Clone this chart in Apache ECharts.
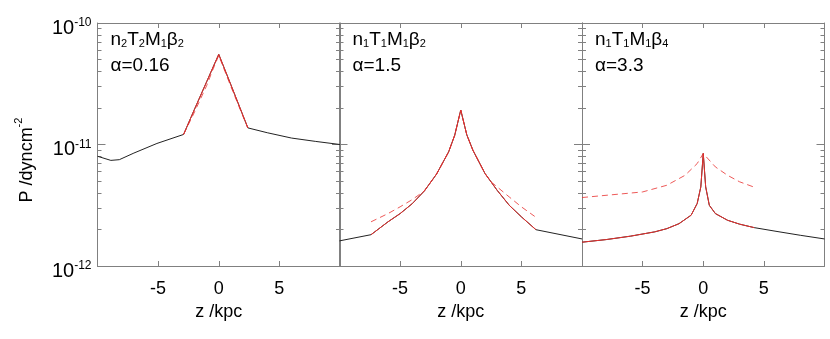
<!DOCTYPE html>
<html>
<head>
<meta charset="utf-8">
<script src="https://cdn.jsdelivr.net/npm/echarts@6/dist/echarts.min.js"></script>
<style>
  html, body { margin: 0; padding: 0; background: #fff; }
  #chart { width: 830px; height: 339px; }
</style>
</head>
<body>
<div id="chart"></div>
<script>
// panel labels
const panelModel = ['n{s|2}T{s|2}M{s|1}β{s|2}', 'n{s|1}T{s|1}M{s|1}β{s|2}', 'n{s|1}T{s|1}M{s|1}β{s|4}']
const panelAlpha = ['α=0.16', 'α=1.5', 'α=3.3']

// minor ticks of the log axis
const minorP = [2e-12, 3e-12, 4e-12, 5e-12, 6e-12, 7e-12, 8e-12, 9e-12,
    2e-11, 3e-11, 4e-11, 5e-11, 6e-11, 7e-11, 8e-11, 9e-11]

// panel 1 (n2T2M1b2)
const p1BlackZ = [-10, -8.9, -8.2, -7.0, -5.1, -2.9, -2, -1, -0.5, 0, 1, 2, 2.4, 4, 6, 8, 10]
const p1BlackP = [8.0e-12, 7.4e-12, 7.5e-12, 8.5e-12, 1.02e-11, 1.21e-11, 1.95e-11, 3.28e-11, 4.26e-11, 5.52e-11,
    3.10e-11, 1.73e-11, 1.37e-11, 1.25e-11, 1.13e-11, 1.06e-11, 1.0e-11]
const p1RedZ = [-2.9, -2, -1, -0.5, 0, 1, 2, 2.4]
const p1RedP = [1.21e-11, 1.95e-11, 3.28e-11, 4.26e-11, 5.52e-11, 3.10e-11, 1.73e-11, 1.37e-11]
const p1DashZ = [-2.9, -2, -1, -0.5, 0, 1, 2, 2.4]
const p1DashP = [1.21e-11, 1.85e-11, 3.05e-11, 4.1e-11, 5.4e-11, 3.0e-11, 1.7e-11, 1.37e-11]

// panel 2 (n1T1M1b2)
const p2BlackZ = [-10, -7.4, -6, -5, -4, -3, -2, -1, -0.5, 0, 0.5, 1, 2, 3, 4, 5, 6.2, 10]
const p2BlackP = [1.61e-12, 1.81e-12, 2.31e-12, 2.70e-12, 3.26e-12, 4.15e-12, 5.70e-12, 8.70e-12, 1.19e-11, 1.92e-11,
    1.2e-11, 8.98e-12, 5.77e-12, 4.20e-12, 3.16e-12, 2.54e-12, 1.99e-12, 1.67e-12]
const p2RedZ = [-7.4, -6, -5, -4, -3, -2, -1, -0.5, 0, 0.5, 1, 2, 3, 4, 5, 6.2]
const p2RedP = [1.81e-12, 2.31e-12, 2.70e-12, 3.26e-12, 4.15e-12, 5.70e-12, 8.70e-12, 1.19e-11, 1.92e-11,
    1.2e-11, 8.98e-12, 5.77e-12, 4.20e-12, 3.16e-12, 2.54e-12, 1.99e-12]
const p2DashZ = [-7.4, -6, -5, -4, -3, -2, -1, -0.5, 0, 0.5, 1, 2, 2.5, 3, 4, 5, 6.1]
const p2DashP = [2.31e-12, 2.70e-12, 3.07e-12, 3.52e-12, 4.15e-12, 5.70e-12, 8.70e-12, 1.19e-11, 1.92e-11,
    1.2e-11, 8.98e-12, 5.77e-12, 4.93e-12, 4.48e-12, 3.70e-12, 3.07e-12, 2.56e-12]

// panel 3 (n1T1M1b4)
const p3BlackZ = [-10, -8, -6, -4, -3, -2, -1, -0.5, -0.2, 0, 0.2, 0.5, 1, 2, 3, 4.2, 6, 8, 10]
const p3BlackP = [1.57e-12, 1.65e-12, 1.76e-12, 1.91e-12, 2.03e-12, 2.23e-12, 2.62e-12, 3.27e-12, 4.48e-12, 8.43e-12,
    4.48e-12, 3.16e-12, 2.70e-12, 2.38e-12, 2.21e-12, 2.07e-12, 1.93e-12, 1.79e-12, 1.67e-12]
const p3RedZ = [-10, -8, -6, -4, -3, -2, -1, -0.5, -0.2, 0, 0.2, 0.5, 1, 2, 3, 4.2]
const p3RedP = [1.57e-12, 1.65e-12, 1.76e-12, 1.91e-12, 2.03e-12, 2.23e-12, 2.62e-12, 3.27e-12, 4.48e-12, 8.43e-12,
    4.48e-12, 3.16e-12, 2.70e-12, 2.38e-12, 2.21e-12, 2.07e-12]
const p3DashZ = [-10, -5, -3, -1.5, -0.5, 0, 1, 2, 3, 4.3]
const p3DashP = [3.66e-12, 4.07e-12, 4.62e-12, 5.58e-12, 6.97e-12, 8.43e-12, 6.54e-12, 5.58e-12, 4.93e-12, 4.42e-12]

const panels = [
    {black: [p1BlackZ, p1BlackP], red: [p1RedZ, p1RedP], dash: [p1DashZ, p1DashP]},
    {black: [p2BlackZ, p2BlackP], red: [p2RedZ, p2RedP], dash: [p2DashZ, p2DashP]},
    {black: [p3BlackZ, p3BlackP], red: [p3RedZ, p3RedP], dash: [p3DashZ, p3DashP]},
]

const FONT = 'Liberation Sans, Arial, Helvetica, sans-serif'
const AXIS_COLOR = '#808080'
const RED = '#e8302e'

function pairs(z, p) {
    return z.map((v, i) => [v, p[i]])
}

const grids = [], xAxes = [], yAxes = [], series = [], graphics = []
const lefts = [97.5, 339.5, 582]

lefts.forEach((left, i) => {
    grids.push({left: left, top: 23, width: 242.5, height: 243})
    // bottom x axis with labels
    xAxes.push({
        type: 'value', gridIndex: i, min: -10, max: 10, interval: 5,
        name: 'z /kpc', nameLocation: 'middle', nameGap: 33,
        nameTextStyle: {fontFamily: FONT, fontSize: 18, color: '#000'},
        axisLine: {onZero: false, lineStyle: {color: AXIS_COLOR}},
        axisTick: {inside: true, length: 5, lineStyle: {color: AXIS_COLOR}},
        axisLabel: {showMinLabel: false, showMaxLabel: false, margin: 14,
            fontFamily: FONT, fontSize: 18, color: '#000'},
        splitLine: {show: false}
    })
    // top x axis, ticks only
    xAxes.push({
        type: 'value', gridIndex: i, position: 'top', min: -10, max: 10, interval: 5,
        axisLine: {onZero: false, lineStyle: {color: AXIS_COLOR}},
        axisTick: {inside: true, length: 5, lineStyle: {color: AXIS_COLOR}},
        axisLabel: {show: false},
        splitLine: {show: false}
    })
    const base = {type: 'log', logBase: 10, gridIndex: i, min: 1e-12, max: 1e-10, splitLine: {show: false}}
    yAxes.push(Object.assign({}, base, {
        position: 'left',
        axisLine: {show: true, onZero: false, lineStyle: {color: AXIS_COLOR}},
        axisTick: {inside: true, length: 8, lineStyle: {color: AXIS_COLOR}},
        axisLabel: {
            show: i === 0, margin: 6, fontFamily: FONT, color: '#000',
            formatter: v => '{b|10}{s|' + Math.round(Math.log10(v)) + '}',
            rich: {
                b: {fontFamily: FONT, fontSize: 20, lineHeight: 20, verticalAlign: 'bottom', color: '#000'},
                s: {fontFamily: FONT, fontSize: 12, lineHeight: 30, verticalAlign: 'middle', color: '#000'}
            }
        }
    }))
    yAxes.push(Object.assign({}, base, {
        position: 'right',
        axisLine: {show: true, onZero: false, lineStyle: {color: AXIS_COLOR}},
        axisTick: {inside: true, length: 8, lineStyle: {color: AXIS_COLOR}},
        axisLabel: {show: false}
    }))
    yAxes.push(Object.assign({}, base, {
        position: 'left',
        axisLine: {show: false, onZero: false},
        axisTick: {inside: true, length: 4, customValues: minorP, lineStyle: {color: AXIS_COLOR}},
        axisLabel: {show: false}
    }))
    yAxes.push(Object.assign({}, base, {
        position: 'right',
        axisLine: {show: false, onZero: false},
        axisTick: {inside: true, length: 4, customValues: minorP, lineStyle: {color: AXIS_COLOR}},
        axisLabel: {show: false}
    }))

    const pn = panels[i]
    const common = {type: 'line', xAxisIndex: 2 * i, yAxisIndex: 4 * i, showSymbol: false, silent: true}
    series.push(Object.assign({}, common, {
        data: pairs(pn.black[0], pn.black[1]),
        lineStyle: {color: '#222', width: 1}
    }))
    series.push(Object.assign({}, common, {
        data: pairs(pn.red[0], pn.red[1]),
        lineStyle: {color: RED, width: 1}
    }))
    series.push(Object.assign({}, common, {
        data: pairs(pn.dash[0], pn.dash[1]),
        lineStyle: {color: RED, width: 1, type: [6, 4], opacity: 0.8}
    }))

    graphics.push({
        type: 'text', left: left + 13, top: 30,
        style: {
            text: panelModel[i] + '\n{a|' + panelAlpha[i] + '}',
            font: '19px ' + FONT, fill: '#000',
            rich: {
                a: {fontFamily: FONT, fontSize: 19, lineHeight: 26, verticalAlign: 'bottom', fill: '#000'},
                s: {fontFamily: FONT, fontSize: 11, lineHeight: 12, verticalAlign: 'bottom', fill: '#000'}
            }
        }
    })
})

// y axis title
graphics.push({
    type: 'text', x: 27, y: 160, rotation: Math.PI / 2,
    style: {
        text: 'P /dyncm{u|-2}', font: '18px ' + FONT, fill: '#000',
        align: 'center', verticalAlign: 'middle',
        rich: {
            u: {fontFamily: FONT, fontSize: 11, lineHeight: 28, verticalAlign: 'top', fill: '#000'}
        }
    }
})

const chart = echarts.init(document.getElementById('chart'))
chart.setOption({
    animation: false,
    backgroundColor: '#fff',
    grid: grids,
    xAxis: xAxes,
    yAxis: yAxes,
    series: series,
    graphic: graphics
})
</script>
</body>
</html>
